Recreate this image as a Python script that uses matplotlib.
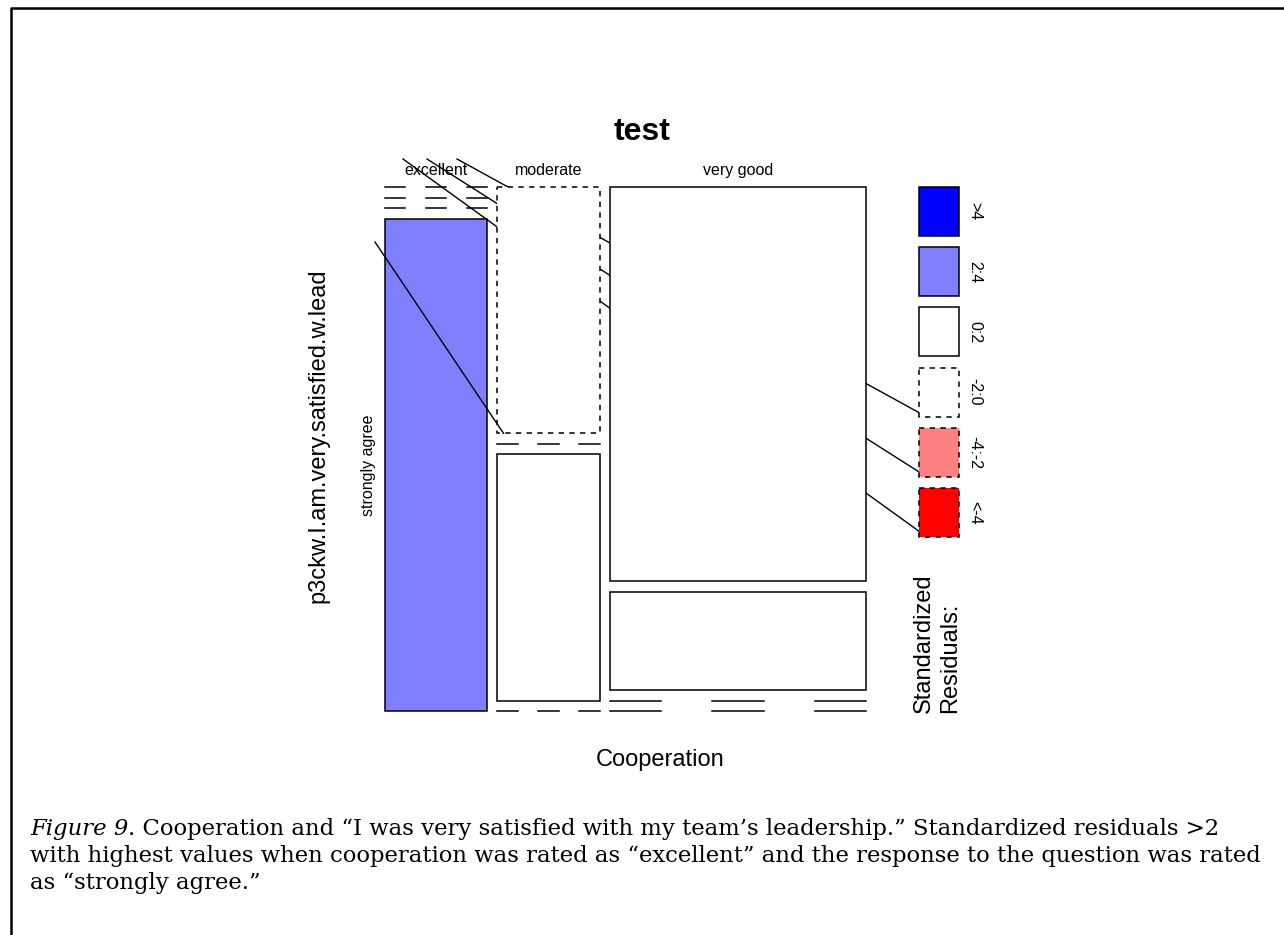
import numpy as np
import matplotlib.pyplot as plt
from matplotlib.patches import Rectangle

plt.rcParams['font.family'] = ['Liberation Sans', 'DejaVu Sans']

# contingency table: rows = satisfaction level, columns = cooperation rating
cooperation = ['excellent', 'moderate', 'very good']
satisfied = ['agree', 'disagree', 'neutral', 'strongly agree']
counts = np.array([[0, 1, 4],
                   [0, 0, 1],
                   [0, 1, 0],
                   [2, 0, 0]])

legend_labels = ['>4', '2:4', '0:2', '-2:0', '-4:-2', '<-4']
legend_colors = ['#0000FF', '#8080FF', '#FFFFFF', '#FFFFFF', '#FF8080', '#FF0000']
legend_dashed = [False, False, False, True, True, True]

caption = ['Cooperation and \u201cI was very satisfied with my team\u2019s leadership.\u201d Standardized residuals >2',
           'with highest values when cooperation was rated as \u201cexcellent\u201d and the response to the question was rated',
           'as \u201cstrongly agree.\u201d']

# pearson residuals
n = counts.sum()
col_tot = counts.sum(axis=0)
row_tot = counts.sum(axis=1)
expected = np.outer(row_tot, col_tot) / n
resid = (counts - expected) / np.sqrt(expected)


def shade(r):
    if r > 4:
        return legend_colors[0]
    if r > 2:
        return legend_colors[1]
    if r > -2:
        return '#FFFFFF'
    if r > -4:
        return legend_colors[4]
    return legend_colors[5]


fig = plt.figure(figsize=(12.84, 9.35), dpi=100)
ax = fig.add_axes([0, 0, 1, 1])
ax.set_xlim(0, 1284)
ax.set_ylim(935, 0)
ax.axis('off')

# page frame
ax.plot([10.7, 10.7, 1284], [935, 7.8, 7.8], color='black', lw=1.8, solid_capstyle='projecting')

# mosaic area (pixels)
X0, X1, GX = 385, 866, 10
Y0, Y1, GY = 187, 711, 10.5
ncol = len(cooperation)
nrow = len(satisfied)
widths = (X1 - X0 - GX * (ncol - 1)) * col_tot / n
lw = 1.1
dash = (0, (3.5, 3.5))

# stray strokes left over from the dashed outlines
stray_lines = [((403, 159), (927, 537)),
               ((427, 159), (927, 477)),
               ((457, 159), (927, 417))]
for (xa, ya), (xb, yb) in stray_lines:
    ax.plot([xa, xb], [ya, yb], color='black', lw=1.0, zorder=1)

cells = {}
x = X0
for j in range(ncol):
    w = widths[j]
    heights = (Y1 - Y0 - GY * (nrow - 1)) * counts[:, j] / col_tot[j]
    y = Y0
    for i in range(nrow):
        h = heights[i]
        if counts[i, j] > 0:
            ls = dash if resid[i, j] < 0 else 'solid'
            ax.add_patch(Rectangle((x, y), w, h, facecolor=shade(resid[i, j]),
                                   edgecolor='black', lw=lw, linestyle=ls, zorder=2))
        else:
            for a, b in [(0, 0.2), (0.4, 0.6), (0.8, 1.0)]:
                ax.plot([x + a * w, x + b * w], [y, y], color='black', lw=lw, zorder=2)
        cells[(i, j)] = (x, y, w, h)
        y += h + GY
    ax.text(x + w / 2, 175, cooperation[j], ha='center', va='baseline', fontsize=11.5)
    x += w + GX

# row labels from the first column
for i in range(nrow):
    cx, cy, cw, ch = cells[(i, 0)]
    if counts[i, 0] > 0:
        ax.text(369, cy + ch / 2, satisfied[i], rotation=90, ha='center', va='center', fontsize=11.5)

# stroke crossing the first column
mx, my, mw, mh = cells[(0, 1)]
ax.plot([375, mx + 6], [242, my + mh], color='black', lw=1.0, zorder=3)

# legend keys
KX, KW, KH, KSTEP = 919, 40, 49, 60.2
for k, lab in enumerate(legend_labels):
    ky = Y0 + k * KSTEP
    ax.add_patch(Rectangle((KX, ky), KW, KH, facecolor=legend_colors[k], edgecolor='black',
                           lw=lw, linestyle=dash if legend_dashed[k] else 'solid', zorder=4))
    ax.text(975, ky + KH / 2, lab, rotation=270, ha='center', va='center', fontsize=11.5)

ax.text(937, 713, 'Standardized\nResiduals:', rotation=90, ha='center', va='bottom',
        multialignment='left', fontsize=17, linespacing=1.2)

ax.text(642, 132, 'test', ha='center', va='center', fontsize=23, fontweight='bold')
ax.text(660, 760, 'Cooperation', ha='center', va='center', fontsize=17)
ax.text(318, 436, 'p3ckw.I.am.very.satisfied.w.lead', rotation=90, ha='center', va='center', fontsize=17)

# figure caption
serif = ['DejaVu Serif']
cap_size = 16.4
fig.canvas.draw()
renderer = fig.canvas.get_renderer()
t = ax.text(30, 835, 'Figure 9', ha='left', va='baseline', fontsize=cap_size,
            family=serif, style='italic')
ext = t.get_window_extent(renderer=renderer)
x_end = ax.transData.inverted().transform((ext.x1, ext.y0))[0]
ax.text(x_end, 835, '. ' + caption[0], ha='left', va='baseline', fontsize=cap_size, family=serif)
ax.text(30, 862, caption[1], ha='left', va='baseline', fontsize=cap_size, family=serif)
ax.text(30, 889, caption[2], ha='left', va='baseline', fontsize=cap_size, family=serif)

fig.savefig('out.png', dpi=100)
